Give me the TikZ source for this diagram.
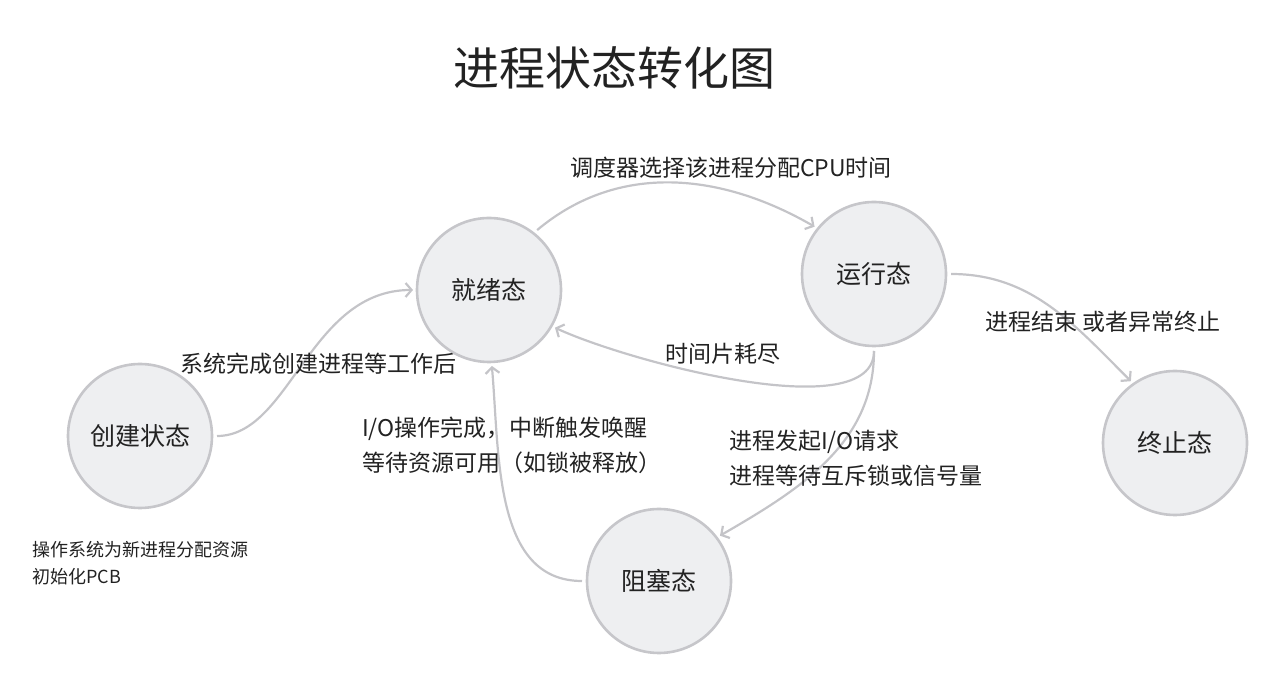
\documentclass[tikz,border=0pt]{standalone}
\usepackage{fontspec}
\setmainfont{Noto Sans CJK SC}
\usetikzlibrary{arrows.meta}
\definecolor{ink}{HTML}{222222}
\definecolor{ring}{HTML}{C6C6CA}
\definecolor{disc}{HTML}{EEEFF1}
\definecolor{wire}{HTML}{C4C4C8}
\begin{document}
\begin{tikzpicture}[x=1pt,y=1pt,
 state/.style={circle, draw=ring, fill=disc, line width=2.6pt, minimum size=144pt, inner sep=0pt, outer sep=0pt, font=\fontsize{25}{29}\selectfont, text=ink},
 flow/.style={draw=wire, line width=2.2pt, -{Straight Barb[length=6pt,width=14pt]}, shorten <=5pt, shorten >=4pt},
 lbl/.style={text=ink, font=\fontsize{23}{35}\selectfont, inner sep=0pt},
 note/.style={text=ink, font=\fontsize{18}{27}\selectfont, inner sep=0pt, align=left},
 heading/.style={text=ink, font=\fontsize{46}{50}\selectfont, inner sep=0pt}]
\useasboundingbox (0,0) rectangle (1280,685);
\node[heading] (title) at (614,617) {进程状态转化图};
\node[state] (create) at (140,249) {创建状态};
\node[state] (ready) at (489,395) {就绪态};
\node[state] (running) at (874,411) {运行态};
\node[state] (term) at (1175,242) {终止态};
\node[state] (blocked) at (659,104) {阻塞态};
% connectors
\draw[flow] (create.0) to[out=0,in=180,out looseness=0.8,in looseness=1.1] (ready.180);
\draw[flow] (ready.52) to[out=40,in=150] (running.141);
\draw[flow] (running.-90) to[out=-90,in=-25,looseness=0.65] (ready.-30);
\draw[flow] (running.-90) to[out=-90,in=30] (blocked.37);
\draw[flow] (blocked.180) to[out=180,in=-85] (ready.-88);
\draw[flow] (running.0) to[out=0,in=135] (term.125);
% labels
\node[lbl] (l1) at (731,517) {调度器选择该进程分配CPU时间};
\node[lbl] (l2) at (318,321) {系统完成创建进程等工作后};
\node[lbl] (l3) at (723,331) {时间片耗尽};
\node[lbl] (l4) at (1103,363) {进程结束 或者异常终止};
\node[lbl, align=left, anchor=west] (l5) at (362,239.5) {I/O操作完成，中断触发唤醒\\等待资源可用（如锁被释放）};
\node[lbl, align=left, anchor=west] (l6) at (729,226.5) {进程发起I/O请求\\进程等待互斥锁或信号量};
\node[note, anchor=west] (n1) at (32,121.5) {操作系统为新进程分配资源\\初始化PCB};
\end{tikzpicture}
\end{document}
